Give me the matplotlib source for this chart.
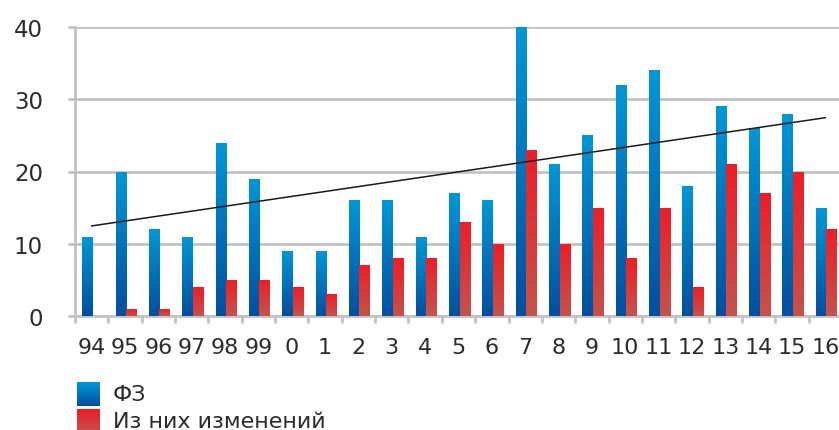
import numpy as np
import matplotlib.pyplot as plt
from matplotlib.colors import LinearSegmentedColormap

# ==============================
# DATA
# ==============================
years = ["94", "95", "96", "97", "98", "99", "0", "1", "2", "3", "4", "5",
         "6", "7", "8", "9", "10", "11", "12", "13", "14", "15", "16"]
fz = [11, 20, 12, 11, 24, 19, 9, 9, 16, 16, 11, 17,
      16, 40, 21, 25, 32, 34, 18, 29, 26, 28, 15]
changes = [0, 1, 1, 4, 5, 5, 4, 3, 7, 8, 8, 13,
           10, 23, 10, 15, 8, 15, 4, 21, 17, 20, 12]
series_names = ["ФЗ", "Из них изменений"]

# ==============================
# STYLE
# ==============================
BLUE_TOP, BLUE_BOT = "#0098d8", "#004fa0"
RED_TOP, RED_BOT = "#ee1d25", "#c6524c"
GRID = "#c3c3c3"
TXT = "#2b2b2b"
W, H = 839, 431

cmap_blue = LinearSegmentedColormap.from_list("b", [BLUE_BOT, BLUE_TOP])
cmap_red = LinearSegmentedColormap.from_list("r", [RED_BOT, RED_TOP])
grad = np.linspace(0, 1, 256).reshape(-1, 1)

plt.rcParams["font.family"] = ["DejaVu Sans"]

fig = plt.figure(figsize=(W / 100, H / 100), dpi=100)
ax = fig.add_axes([75 / W, 1 - 317 / H, 767 / W, (317 - 28) / H])

x = np.arange(len(years))
bw = 0.315


def grad_bars(xs, vals, cmap):
    bars = ax.bar(xs, vals, width=bw, color="none", edgecolor="none", zorder=3)
    for b in bars:
        if b.get_height() <= 0:
            continue
        x0, y0 = b.get_x(), b.get_y()
        im = ax.imshow(grad, cmap=cmap, origin="lower", aspect="auto",
                       extent=[x0, x0 + b.get_width(), y0, y0 + b.get_height()],
                       zorder=3)
        im.set_clip_path(b)


grad_bars(x - bw / 2 + 0.03, fz, cmap_blue)
grad_bars(x + bw / 2 + 0.03, changes, cmap_red)

# linear trend of the main series
k, c = np.polyfit(x, fz, 1)
ax.plot(x, k * x + c, color="#1a1a1a", lw=1.1, zorder=4)

ax.set_xlim(-0.5, len(years) - 0.5)
ax.set_ylim(0, 40)
ax.set_yticks([0, 10, 20, 30, 40])
ax.yaxis.grid(True, color=GRID, lw=2)
ax.set_axisbelow(True)

ax.set_xticks(x)
ax.set_xticklabels(years)
ax.set_xticks(np.arange(-0.5, len(years), 1), minor=True)
ax.tick_params(axis="x", which="major", length=0, pad=15, labelsize=16,
               labelcolor=TXT)
ax.tick_params(axis="x", which="minor", length=5, width=2, color=GRID,
               direction="out")
ax.tick_params(axis="y", length=5, width=2, color=GRID, pad=18,
               labelsize=16.5, labelcolor=TXT)

for s in ["top", "right"]:
    ax.spines[s].set_visible(False)
for s in ["left", "bottom"]:
    ax.spines[s].set_color(GRID)
    ax.spines[s].set_linewidth(2)

# legend drawn by hand with gradient swatches
for i, (name, cm) in enumerate(zip(series_names, [cmap_blue, cmap_red])):
    top = 383 + i * 27
    sw = fig.add_axes([77 / W, 1 - (top + 24) / H, 23 / W, 24 / H])
    sw.imshow(grad, cmap=cm, origin="lower", aspect="auto")
    sw.axis("off")
    fig.text(113 / W, 1 - (top + 12) / H, name, fontsize=16, color=TXT,
             va="center", ha="left")

fig.savefig("out.png", dpi=100)
